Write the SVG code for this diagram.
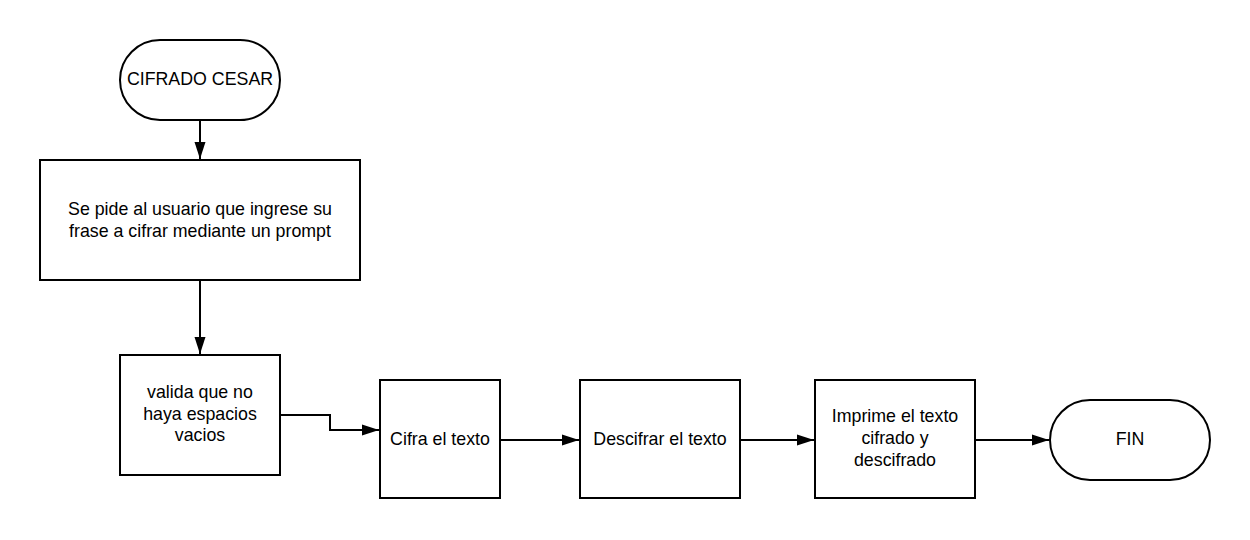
<svg xmlns="http://www.w3.org/2000/svg" width="1250" height="540" viewBox="0 0 1250 540">
<style>
.s{fill:#fff;stroke:#000;stroke-width:2}
.t{font-family:"Liberation Sans",Arial,sans-serif;font-size:17.8px;fill:#000;text-anchor:middle;dominant-baseline:central}
.c{fill:none;stroke:#000;stroke-width:2}
</style>
<defs>
<marker id="a" markerWidth="17" markerHeight="12" refX="17" refY="6" orient="auto" markerUnits="userSpaceOnUse">
<path d="M0,0.5 L17,6 L0,11.5 Z" fill="#000"/>
</marker>
</defs>
<rect width="1250" height="540" fill="#fff"/>
<g id="connectors">
<path class="c" d="M200,120 V159" marker-end="url(#a)"/>
<path class="c" d="M200,280 V354" marker-end="url(#a)"/>
<path class="c" d="M280,415 H330 V430 H379" marker-end="url(#a)"/>
<path class="c" d="M500,440 H579" marker-end="url(#a)"/>
<path class="c" d="M740,440 H814" marker-end="url(#a)"/>
<path class="c" d="M975,440 H1049" marker-end="url(#a)"/>
</g>
<g id="start">
<rect class="s" x="120" y="40" width="160" height="80" rx="40" ry="40"/>
<text class="t" x="200" y="79">CIFRADO CESAR</text>
</g>
<g id="prompt">
<rect class="s" x="40" y="160" width="320" height="120"/>
<text class="t" x="200" y="209">Se pide al usuario que ingrese su</text>
<text class="t" x="200" y="231">frase a cifrar mediante un prompt</text>
</g>
<g id="valida">
<rect class="s" x="120" y="355" width="160" height="120"/>
<text class="t" x="200" y="392">valida que no</text>
<text class="t" x="200" y="414">haya espacios</text>
<text class="t" x="200" y="435">vacios</text>
</g>
<g id="cifra">
<rect class="s" x="380" y="380" width="120" height="118"/>
<text class="t" x="440" y="439">Cifra el texto</text>
</g>
<g id="descifrar">
<rect class="s" x="580" y="380" width="160" height="118"/>
<text class="t" x="660" y="439">Descifrar el texto</text>
</g>
<g id="imprime">
<rect class="s" x="815" y="380" width="160" height="118"/>
<text class="t" x="895" y="416">Imprime el texto</text>
<text class="t" x="895" y="438">cifrado y</text>
<text class="t" x="895" y="460">descifrado</text>
</g>
<g id="fin">
<rect class="s" x="1050" y="400" width="160" height="80" rx="40" ry="40"/>
<text class="t" x="1130" y="439">FIN</text>
</g>
</svg>
